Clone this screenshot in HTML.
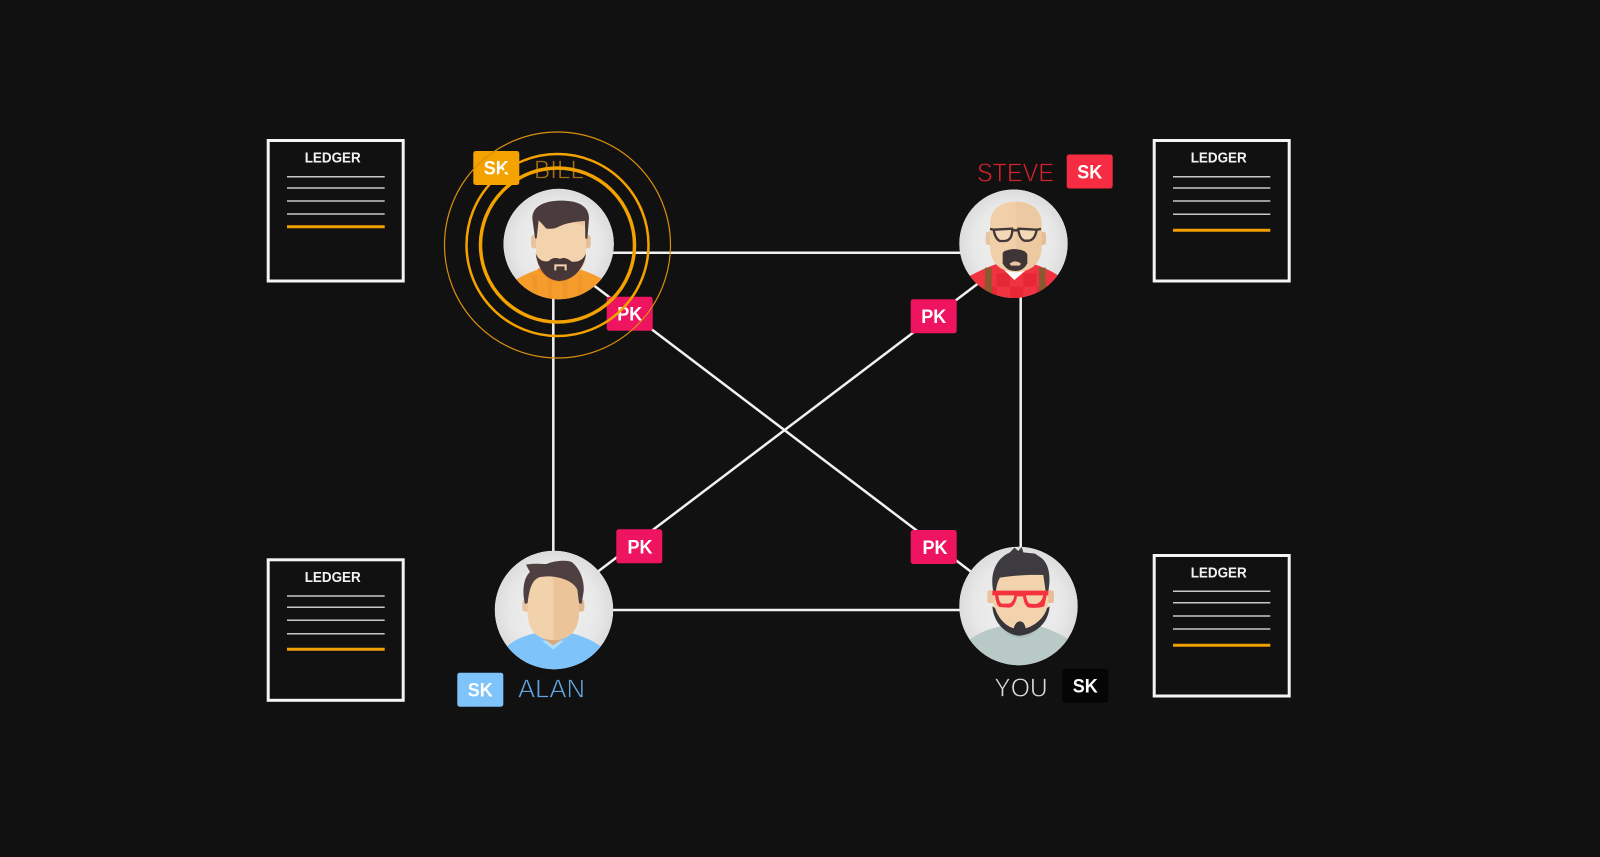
<!DOCTYPE html>
<html><head><meta charset="utf-8"><style>
html,body{margin:0;padding:0;background:#111}
svg{display:block}
text{font-family:"Liberation Sans",sans-serif}
.tag{font-weight:bold;font-size:19.5px;fill:#fff;text-anchor:middle}
.name{font-size:26px;stroke:#111;stroke-width:.7px}
.lg{font-weight:bold;font-size:14.5px;fill:#f2f2f2;text-anchor:middle}
.box{fill:none;stroke:#f4f4f4;stroke-width:3}
.ll{stroke:#c8c8c8;stroke-width:1.5}
.ol{stroke:#f0a000;stroke-width:3}
.c{stroke:#f2f2f2;stroke-width:2.5}
</style></head><body>
<svg width="1600" height="857" viewBox="0 0 1600 857" xmlns="http://www.w3.org/2000/svg">
<defs>
<radialGradient id="bg"><stop offset="0" stop-color="#f3f3f3"/><stop offset=".75" stop-color="#e8e8e8"/><stop offset="1" stop-color="#dcdcdc"/></radialGradient>
<clipPath id="cb"><circle cx="176" cy="177" r="166"/></clipPath>
<clipPath id="cs"><circle cx="175.5" cy="176" r="163"/></clipPath>
<clipPath id="ca"><circle cx="192" cy="186" r="178"/></clipPath>
<clipPath id="cy"><circle cx="190.5" cy="189" r="178"/></clipPath>
</defs>
<rect width="1600" height="857" fill="#111"/>

<!-- connectors -->
<line class="c" x1="553.3" y1="295" x2="553.3" y2="556"/>
<line class="c" x1="1020.7" y1="295" x2="1020.7" y2="552"/>
<line class="c" x1="605" y1="252.7" x2="965" y2="252.7"/>
<line class="c" x1="605" y1="610" x2="965" y2="610"/>
<line class="c" x1="592" y1="284" x2="972" y2="572.5"/>
<line class="c" x1="980" y1="282" x2="596" y2="573"/>

<!-- ledgers -->
<g>
<rect class="box" x="268.2" y="140.5" width="135" height="140.5"/>
<text class="lg" x="332.7" y="162.7" textLength="56" lengthAdjust="spacingAndGlyphs">LEDGER</text>
<path class="ll" d="M287 176.7H384.7M287 188H384.7M287 201H384.7M287 214H384.7"/>
<path class="ol" d="M287 226.7H384.7"/>
</g>
<g>
<rect class="box" x="1154.2" y="140.5" width="135" height="140.5"/>
<text class="lg" x="1218.7" y="162.7" textLength="56" lengthAdjust="spacingAndGlyphs">LEDGER</text>
<path class="ll" d="M1173 176.7H1270.3M1173 188H1270.3M1173 201H1270.3M1173 214.3H1270.3"/>
<path class="ol" d="M1173 230.3H1270.3"/>
</g>
<g>
<rect class="box" x="268.2" y="559.8" width="135" height="140.5"/>
<text class="lg" x="332.7" y="582" textLength="56" lengthAdjust="spacingAndGlyphs">LEDGER</text>
<path class="ll" d="M287 596H384.7M287 607.3H384.7M287 620.3H384.7M287 633.7H384.7"/>
<path class="ol" d="M287 649.3H384.7"/>
</g>
<g>
<rect class="box" x="1154.2" y="555.5" width="135" height="140.5"/>
<text class="lg" x="1218.7" y="577.7" textLength="56" lengthAdjust="spacingAndGlyphs">LEDGER</text>
<path class="ll" d="M1173 591.3H1270.3M1173 602.7H1270.3M1173 616H1270.3M1173 629H1270.3"/>
<path class="ol" d="M1173 645.3H1270.3"/>
</g>

<!-- Bill -->
<g transform="translate(500 185) scale(.3333)">
<g clip-path="url(#cb)">
<circle cx="176" cy="177" r="166" fill="url(#bg)"/>
<path d="M30 295Q70 268 115 253L240 253Q280 265 320 290L320 360L30 360Z" fill="#f59c2b"/>
<path d="M150 280V350M195 280V350M240 270V350M105 270V350" stroke="#f0952a" stroke-width="14"/>
<path d="M112 250Q178 330 243 250Z" fill="#ee8a1f"/>
<rect x="93" y="150" width="22" height="40" rx="8" fill="#eac39f"/>
<rect x="250" y="150" width="22" height="40" rx="8" fill="#e6bd97"/>
<path d="M108 90L258 90L258 210Q258 270 183 275Q108 270 108 210Z" fill="#f2d3ae"/>
<path d="M178 100L256 95L256 125C225 110 200 112 178 118Z" fill="#ecc49e"/>
<path d="M107 205C112 240 130 285 178 288C228 285 255 240 258 205C250 225 235 232 215 230C200 218 190 217 180 222C170 217 155 218 147 228C130 232 115 225 107 205Z" fill="#463638"/>
<path d="M166 256V241H197V256" fill="none" stroke="#f2d3ae" stroke-width="6"/>
<path d="M105 160L97 100C97 60 140 47 183 47C230 47 267 60 267 100L262 162L256 160L255 108C225 110 195 114 170 128C160 132 148 132 138 130C130 120 122 112 116 106L110 160Z" fill="#4a3b3c"/>
</g>
</g>

<!-- Steve -->
<g transform="translate(955 185) scale(.3333)">
<g clip-path="url(#cs)">
<circle cx="175.5" cy="176" r="163" fill="url(#bg)"/>
<path d="M40 275Q90 248 130 235L230 235Q280 250 315 275L315 360L40 360Z" fill="#ef3340"/>
<path d="M125 265h40v40h-40zM205 265h40v40h-40zM165 305h40v40h-40zM85 305h40v40h-40zM245 305h30v30h-30z" fill="#e52834"/>
<rect x="90" y="248" width="20" height="80" fill="#8a5a2e"/>
<rect x="252" y="248" width="20" height="80" fill="#8a5a2e"/>
<path d="M148 256L212 256L178 285Z" fill="#fff"/>
<rect x="92" y="140" width="20" height="40" rx="8" fill="#eac39f"/>
<rect x="253" y="140" width="20" height="40" rx="8" fill="#e6bd97"/>
<path d="M105 120C105 70 140 50 182 50C225 50 260 70 260 120L260 190Q255 258 182 262Q110 258 105 190Z" fill="#f1cfa8"/>
<path d="M182 50C225 50 260 70 260 120L260 190Q255 258 182 262Z" fill="#edc9a2"/>
<path d="M143 205Q145 195 178 192Q215 195 217 210L217 235Q205 258 180 258Q155 258 143 235Z" fill="#3f3436"/>
<path d="M164 236Q180 222 198 236L194 242L168 242Z" fill="#e9c49e"/>
<path d="M105 132L116 134M245 134L258 132M172 136H190" fill="none" stroke="#423739" stroke-width="7"/>
<path d="M116 134L172 131Q172 168 148 168L134 168Q120 160 116 134ZM190 131L245 134Q240 164 222 167L208 167Q192 160 190 131Z" fill="#f5d8b5" stroke="#423739" stroke-width="7" stroke-linejoin="round"/>
</g>
</g>

<!-- Alan -->
<g transform="translate(490 548) scale(.3333)">
<g clip-path="url(#ca)">
<circle cx="192" cy="186" r="178" fill="url(#bg)"/>
<path d="M48 297Q85 265 140 255L240 255Q290 265 335 297L340 372L40 372Z" fill="#7fc3fb"/>
<path d="M155 278L190 305L222 278Z" fill="#aedcfb"/>
<path d="M140 240L240 240L240 258L190 292L140 258Z" fill="#d9a77c"/>
<rect x="97" y="155" width="24" height="36" rx="8" fill="#eac39f"/>
<rect x="259" y="155" width="24" height="36" rx="8" fill="#e0b78d"/>
<path d="M113 75L267 75V200Q264 255 222 271Q190 282 158 271Q116 255 113 200Z" fill="#f2d2ab"/>
<path d="M190 75L267 75V200Q264 255 222 271Q206 277 190 277Z" fill="#ebc49a"/>
<path d="M105 168C95 125 102 88 120 72L108 50C130 45 150 48 170 48C190 38 230 35 245 42C270 60 284 100 281 130L275 168L267 165L262 125C252 100 210 84 170 85L150 87C125 95 118 125 113 165Z" fill="#4e3f41"/>
</g>
</g>

<!-- You -->
<g transform="translate(955 543) scale(.3333)">
<g clip-path="url(#cy)">
<circle cx="190.5" cy="189" r="178" fill="url(#bg)"/>
<path d="M40 292Q80 262 135 250L255 250Q300 262 345 292L345 372L40 372Z" fill="#b9cac6"/>
<path d="M135 250Q195 320 255 250Z" fill="#a9bcb7"/>
<rect x="97" y="142" width="24" height="38" rx="6" fill="#eac39f"/>
<rect x="273" y="142" width="24" height="38" rx="6" fill="#e6bd97"/>
<path d="M115 85L280 85L280 190Q270 268 195 276Q125 268 115 190Z" fill="#f2d3ae"/>
<path d="M112 190L120 195C130 225 150 248 176 256Q182 235 195 235Q208 235 212 256C240 248 268 225 276 195L284 190C280 240 245 268 205 276Q195 280 180 276C150 268 116 240 112 190Z" fill="#37343a"/>
<path d="M115 145C103 90 125 45 165 28L178 14L190 24L200 12L205 28L240 32L255 42C283 60 288 100 280 145L272 145L265 96C220 94 175 98 135 104C128 115 124 130 123 145Z" fill="#3d3b3f"/>
<path d="M112 143H280V157H275L268 190Q250 196 222 194Q208 190 204 160H186Q180 194 160 194L134 192Q124 188 120 157H112Z" fill="#f5333f"/>
<path d="M130 157H178Q174 182 158 182L140 182Q132 178 130 157ZM213 157H265Q258 182 240 183L224 182Q216 178 213 157Z" fill="#f2d3ae"/>
</g>
</g>

<!-- badges -->
<rect x="473.3" y="151" width="46" height="34" rx="2.5" fill="#f3a200"/>
<text class="tag" x="496.3" y="174.5" textLength="25" lengthAdjust="spacingAndGlyphs">SK</text>
<rect x="606.7" y="296.7" width="46" height="34" rx="2.5" fill="#ee1460"/>
<text class="tag" x="629.7" y="320.5" textLength="25" lengthAdjust="spacingAndGlyphs">PK</text>
<rect x="1066.7" y="154.5" width="46" height="34" rx="2.5" fill="#f62d42"/>
<text class="tag" x="1089.7" y="178.5" textLength="25" lengthAdjust="spacingAndGlyphs">SK</text>
<rect x="910.7" y="299.3" width="46" height="34" rx="2.5" fill="#ee1460"/>
<text class="tag" x="933.7" y="323" textLength="25" lengthAdjust="spacingAndGlyphs">PK</text>
<rect x="616.3" y="529.3" width="46" height="34" rx="2.5" fill="#ee1460"/>
<text class="tag" x="640" y="553.3" textLength="25" lengthAdjust="spacingAndGlyphs">PK</text>
<rect x="910.7" y="530" width="46" height="34" rx="2.5" fill="#ee1460"/>
<text class="tag" x="935" y="554" textLength="25" lengthAdjust="spacingAndGlyphs">PK</text>
<rect x="457.3" y="672.7" width="46" height="34" rx="2.5" fill="#7fc3fb"/>
<text class="tag" x="480.3" y="696.5" textLength="25" lengthAdjust="spacingAndGlyphs">SK</text>
<rect x="1062.3" y="668.7" width="46" height="34" rx="2.5" fill="#050505"/>
<text class="tag" x="1085.3" y="692.5" textLength="25" lengthAdjust="spacingAndGlyphs">SK</text>

<!-- names -->
<text class="name" x="534" y="178.3" fill="#a36f12" textLength="50" lengthAdjust="spacingAndGlyphs">BILL</text>
<text class="name" x="977" y="181.7" fill="#d3222e" textLength="77" lengthAdjust="spacingAndGlyphs">STEVE</text>
<text class="name" x="518" y="697.3" fill="#62a5e0" textLength="67" lengthAdjust="spacingAndGlyphs">ALAN</text>
<text class="name" x="994.3" y="696.7" fill="#dcdcdc" textLength="53.4" lengthAdjust="spacingAndGlyphs">YOU</text>

<!-- rings -->
<circle cx="557.5" cy="245" r="77" fill="none" stroke="#f3a200" stroke-width="3.5"/>
<circle cx="557.5" cy="245" r="91" fill="none" stroke="#f3a200" stroke-width="2.5"/>
<circle cx="557.5" cy="245" r="113" fill="none" stroke="#d98f0b" stroke-width="1.2"/>
</svg>
</body></html>
